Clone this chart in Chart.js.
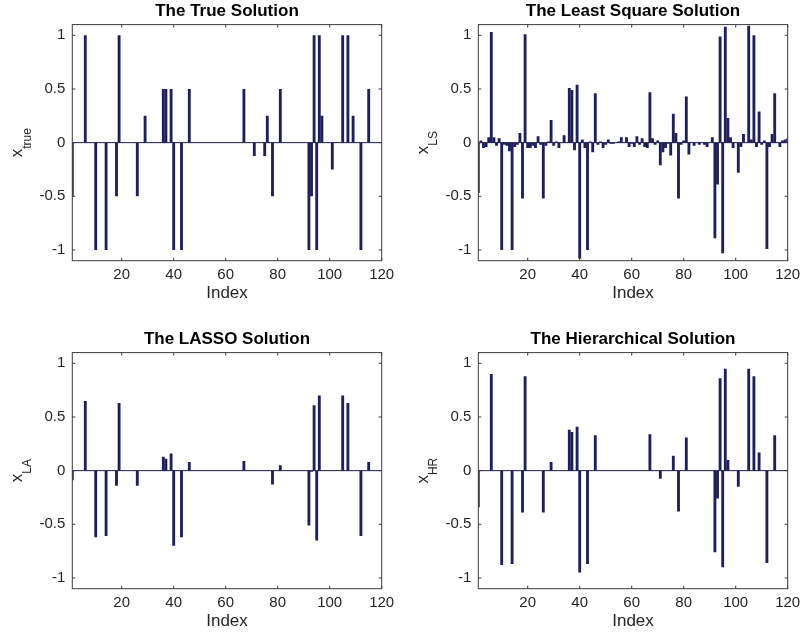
<!DOCTYPE html>
<html>
<head>
<meta charset="utf-8">
<script src="https://cdn.jsdelivr.net/npm/chart.js@4/dist/chart.umd.min.js"></script>
<style>
  html, body { margin: 0; padding: 0; background: #fff; }
  body { width: 803px; height: 634px; position: relative; overflow: hidden; }
  .panel { position: absolute; width: 397px; height: 306px; }
  .panel canvas { display: block; }
</style>
</head>
<body>
<div class="panel" style="left:0;top:0"><canvas id="cTrue" width="397" height="306"></canvas></div>
<div class="panel" style="left:406px;top:0"><canvas id="cLS" width="397" height="306"></canvas></div>
<div class="panel" style="left:0;top:328px"><canvas id="cLA" width="397" height="306"></canvas></div>
<div class="panel" style="left:406px;top:328px"><canvas id="cHR" width="397" height="306"></canvas></div>
<script>
// Coefficient index (1..120)
const indices = Array.from({ length: 120 }, (_, i) => i + 1);

// Axis ticks
const xTicks = [20, 40, 60, 80, 100, 120];
const xTickLabels = ['20', '40', '60', '80', '100', '120'];
const yTicks = [-1, -0.5, 0, 0.5, 1];
const yTickLabels = ['-1', '-0.5', '0', '0.5', '1'];

// True sparse signal
const xTrue = [
  -0.5, 0, 0, 0, 0, 1, 0, 0, 0, -1,
  0, 0, 0, -1, 0, 0, 0, -0.5, 1, 0,
  0, 0, 0, 0, 0, -0.5, 0, 0, 0.25, 0,
  0, 0, 0, 0, 0, 0.5, 0.5, 0, 0.5, -1,
  0, 0, -1, 0, 0, 0.5, 0, 0, 0, 0,
  0, 0, 0, 0, 0, 0, 0, 0, 0, 0,
  0, 0, 0, 0, 0, 0, 0.5, 0, 0, 0,
  -0.125, 0, 0, 0, -0.125, 0.25, 0, -0.5, 0, 0,
  0.5, 0, 0, 0, 0, 0, 0, 0, 0, 0,
  0, -1, -0.5, 1, -1, 1, 0.25, 0, 0, 0,
  -0.25, 0, 0, 0, 1, 0, 1, 0, 0.25, 0,
  0, -1, 0, 0, 0.5, 0, 0, 0, 0, 0
];

// Least-squares estimate
const xLS = [
  -0.47, 0.02, -0.05, -0.04, 0.05, 1.03, 0.05, -0.03, 0.04, -1.0,
  -0.02, -0.03, -0.08, -1.0, -0.04, -0.02, 0.09, -0.52, 1.01, -0.05,
  -0.05, -0.03, -0.05, 0.06, -0.02, -0.52, -0.03, 0.01, 0.21, -0.03,
  0.01, -0.05, 0.0, 0.07, 0.0, 0.51, 0.49, -0.07, 0.54, -1.08,
  0.03, -0.05, -1.0, 0.01, -0.09, 0.46, -0.02, 0.01, -0.05, -0.02,
  0.03, -0.01, -0.01, 0.0, 0.01, 0.05, 0.0, 0.05, -0.04, -0.01,
  -0.04, 0.06, -0.02, 0.04, -0.04, -0.05, 0.47, 0.04, -0.02, 0.02,
  -0.21, -0.09, -0.05, -0.01, -0.12, 0.27, 0.09, -0.52, -0.02, 0.02,
  0.43, -0.11, 0.0, -0.03, 0.0, -0.02, 0.0, -0.02, -0.04, 0.0,
  0.05, -0.89, -0.39, 0.99, -1.03, 1.08, 0.23, 0.05, -0.05, 0.0,
  -0.28, -0.04, 0.08, 0.0, 1.09, 0.03, 1.0, -0.04, 0.29, -0.02,
  0.02, -0.99, -0.04, 0.08, 0.46, 0.0, -0.04, 0.02, 0.03, 0.04
];

// LASSO estimate
const xLA = [
  -0.09, 0, 0, 0, 0, 0.65, 0, 0, 0, -0.62,
  0, 0, 0, -0.61, 0, 0, 0, -0.14, 0.63, 0,
  0, 0, 0, 0, 0, -0.14, 0, 0, 0, 0,
  0, 0, 0, 0, 0, 0.13, 0.11, 0, 0.16, -0.70,
  0, 0, -0.62, 0, 0, 0.08, 0, 0, 0, 0,
  0, 0, 0, 0, 0, 0, 0, 0, 0, 0,
  0, 0, 0, 0, 0, 0, 0.09, 0, 0, 0,
  0, 0, 0, 0, 0, 0, 0, -0.13, 0, 0,
  0.05, 0, 0, 0, 0, 0, 0, 0, 0, 0,
  0, -0.51, -0.01, 0.61, -0.65, 0.70, 0, 0, 0, 0,
  0, 0, 0, 0, 0.70, 0, 0.63, 0, 0, 0,
  0, -0.61, 0, 0, 0.08, 0, 0, 0, 0, 0
];

// Hierarchical estimate
const xHR = [
  -0.34, 0, 0, 0, 0, 0.90, 0, 0, 0, -0.88,
  0, 0, 0, -0.87, 0, 0, 0, -0.39, 0.88, 0,
  0, 0, 0, 0, 0, -0.39, 0, 0, 0.08, 0,
  0, 0, 0, 0, 0, 0.38, 0.36, 0, 0.41, -0.95,
  0, 0, -0.87, 0, 0, 0.33, 0, 0, 0, 0,
  0, 0, 0, 0, 0, 0, 0, 0, 0, 0,
  0, 0, 0, 0, 0, 0, 0.34, 0, 0, 0,
  -0.075, 0, 0, 0, 0, 0.14, 0, -0.38, 0, 0,
  0.31, 0, 0, 0, 0, 0, 0, 0, 0, 0,
  0, -0.76, -0.26, 0.86, -0.90, 0.95, 0.10, 0, 0, 0,
  -0.15, 0, 0, 0, 0.95, 0, 0.88, 0, 0.17, 0,
  0, -0.86, 0, 0, 0.33, 0, 0, 0, 0, 0
];

const FONT = '"Liberation Sans", Arial, Helvetica, sans-serif';
const AXIS_COLOR = '#262626';

// Boxed axes with inward ticks, zero baseline, title and subscripted y label
const boxedAxes = {
  id: 'boxedAxes',
  beforeDatasetsDraw(chart) {
    const { ctx, chartArea: a, scales: { y } } = chart;
    const y0 = y.getPixelForValue(0);
    ctx.save();
    ctx.strokeStyle = '#1a1a40';
    ctx.lineWidth = 1;
    ctx.beginPath();
    ctx.moveTo(a.left, y0);
    ctx.lineTo(a.right, y0);
    ctx.stroke();
    ctx.restore();
  },
  afterDraw(chart, args, opts) {
    const { ctx, chartArea: a, scales: { x, y } } = chart;
    ctx.save();
    ctx.strokeStyle = '#3c3c3c';
    ctx.lineWidth = 1;
    ctx.strokeRect(a.left, a.top, a.right - a.left, a.bottom - a.top);
    const tl = 3;
    ctx.beginPath();
    x.ticks.forEach(t => {
      const px = x.getPixelForValue(t.value);
      ctx.moveTo(px, a.bottom); ctx.lineTo(px, a.bottom - tl);
      ctx.moveTo(px, a.top); ctx.lineTo(px, a.top + tl);
    });
    y.ticks.forEach(t => {
      const py = y.getPixelForValue(t.value);
      ctx.moveTo(a.left, py); ctx.lineTo(a.left + tl, py);
      ctx.moveTo(a.right, py); ctx.lineTo(a.right - tl, py);
    });
    ctx.stroke();

    // title
    ctx.fillStyle = '#000';
    ctx.font = 'bold 17px ' + FONT;
    ctx.textAlign = 'center';
    ctx.textBaseline = 'middle';
    ctx.fillText(opts.title, (a.left + a.right) / 2, 11.5);

    // y label: symbol with subscript, rotated
    ctx.translate(a.left - 50.3, (a.top + a.bottom) / 2);
    ctx.rotate(-Math.PI / 2);
    ctx.fillStyle = AXIS_COLOR;
    ctx.textAlign = 'left';
    ctx.textBaseline = 'alphabetic';
    ctx.font = '17px ' + FONT;
    const w1 = ctx.measureText(opts.symbol).width;
    ctx.font = '12px ' + FONT;
    const w2 = ctx.measureText(opts.sub).width;
    const start = -(w1 + w2) / 2;
    ctx.font = '17px ' + FONT;
    ctx.fillText(opts.symbol, start, 0);
    ctx.font = '12px ' + FONT;
    ctx.fillText(opts.sub, start + w1, 9);
    ctx.restore();
  }
};

function makeChart(id, values, title, sub) {
  const ctx = document.getElementById(id);
  return new Chart(ctx, {
    type: 'bar',
    data: {
      datasets: [{
        data: values.map((v, i) => ({ x: indices[i], y: v })),
        backgroundColor: '#1f1f5c',
        borderWidth: 0,
        barPercentage: 1.1,
        categoryPercentage: 1,
        clip: 0
      }]
    },
    options: {
      responsive: false,
      animation: false,
      events: [],
      layout: { padding: { top: 24.6, right: 15.3, bottom: 0, left: 0 } },
      plugins: {
        legend: { display: false },
        tooltip: { enabled: false },
        title: { display: false },
        boxedAxes: { title: title, symbol: 'x', sub: sub }
      },
      scales: {
        x: {
          type: 'linear',
          min: 1,
          max: 120,
          offset: false,
          grid: { display: false, drawTicks: false, offset: false },
          border: { display: false },
          afterBuildTicks: s => { s.ticks = xTicks.map(v => ({ value: v })); },
          afterFit: s => { s.height = 45.3; s.paddingLeft = 0; s.paddingRight = 0; },
          ticks: {
            autoSkip: false,
            maxRotation: 0,
            minRotation: 0,
            padding: 5.6,
            color: AXIS_COLOR,
            font: { family: FONT, size: 15 },
            callback: v => xTickLabels[xTicks.indexOf(v)]
          },
          title: {
            display: true,
            text: 'Index',
            color: AXIS_COLOR,
            font: { family: FONT, size: 17 },
            padding: { top: 0, bottom: 2.5 }
          }
        },
        y: {
          min: -1.1,
          max: 1.1,
          grid: { display: false, drawTicks: false },
          border: { display: false },
          afterBuildTicks: s => { s.ticks = yTicks.map(v => ({ value: v })); },
          afterFit: s => { s.width = 72.3; s.paddingTop = 0; s.paddingBottom = 0; },
          ticks: {
            padding: 7,
            color: AXIS_COLOR,
            font: { family: FONT, size: 15 },
            callback: v => yTickLabels[yTicks.indexOf(v)]
          }
        }
      }
    },
    plugins: [boxedAxes]
  });
}

makeChart('cTrue', xTrue, 'The True Solution', 'true');
makeChart('cLS', xLS, 'The Least Square Solution', 'LS');
makeChart('cLA', xLA, 'The LASSO Solution', 'LA');
makeChart('cHR', xHR, 'The Hierarchical Solution', 'HR');
</script>
</body>
</html>
